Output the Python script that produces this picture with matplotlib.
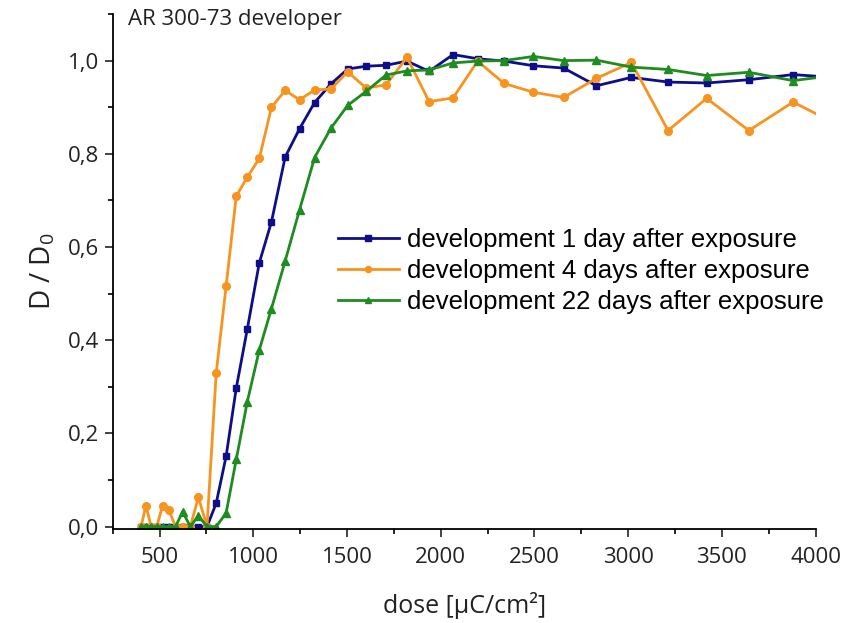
import numpy as np
import matplotlib.pyplot as plt
from matplotlib.ticker import MultipleLocator, FuncFormatter

# dose values (uC/cm^2), shared by all three series
dose = [401, 427, 455, 485, 516, 550, 585, 623, 664, 707, 753, 802, 855, 909,
        968, 1032, 1097, 1170, 1247, 1327, 1414, 1504, 1602, 1708, 1820, 1938,
        2066, 2197, 2338, 2495, 2656, 2831, 3017, 3213, 3419, 3644, 3880, 4130]

# normalized thickness D/D0
day1 = [0, 0, 0, 0, 0, 0, 0, 0, 0, 0, 0, 0.05, 0.151, 0.297, 0.424, 0.566,
        0.654, 0.793, 0.854, 0.91, 0.95, 0.982, 0.988, 0.99, 0.999, 0.977,
        1.013, 1.004, 0.999, 0.989, 0.984, 0.946, 0.964, 0.954, 0.952, 0.959,
        0.970, 0.963]
day4 = [0, 0.045, 0, 0, 0.045, 0.035, 0, 0, 0, 0.063, 0, 0.329, 0.516, 0.709,
        0.75, 0.79, 0.90, 0.936, 0.916, 0.937, 0.939, 0.976, 0.941, 0.948,
        1.007, 0.912, 0.920, 0.999, 0.951, 0.932, 0.921, 0.962, 0.996, 0.850,
        0.919, 0.850, 0.911, 0.86]
day22 = [0, 0, 0, 0, 0, 0, 0, 0.032, 0, 0.023, 0, 0, 0.029, 0.144, 0.268,
         0.379, 0.468, 0.570, 0.680, 0.792, 0.855, 0.904, 0.934, 0.969, 0.978,
         0.98, 0.995, 0.999, 1.0, 1.009, 1.0, 1.001, 0.986, 0.981, 0.968, 0.975,
         0.957, 0.97]

labels = ['development 1 day after exposure',
          'development 4 days after exposure',
          'development 22 days after exposure']

plt.rcParams['font.family'] = ['Open Sans', 'DejaVu Sans']
plt.rcParams['mathtext.fontset'] = 'custom'
plt.rcParams['mathtext.rm'] = 'Open Sans'
plt.rcParams['mathtext.it'] = 'Open Sans'

fig = plt.figure(figsize=(8.54, 6.23), dpi=100)
ax = fig.add_axes([0.132, 0.151, 0.823, 0.8265])

ax.plot(dose, day1, color='#0e0e8a', lw=2, marker='s', ms=5, label=labels[0])
ax.plot(dose, day4, color='#f7931e', lw=2, marker='o', ms=5.5, label=labels[1])
ax.plot(dose, day22, color='#1e8c1e', lw=2, marker='^', ms=6, label=labels[2])

ax.set_xlim(250, 4000)
ax.set_ylim(-0.005, 1.1)
ax.xaxis.set_major_locator(MultipleLocator(500))
ax.xaxis.set_minor_locator(MultipleLocator(250))
ax.yaxis.set_major_locator(MultipleLocator(0.2))
ax.yaxis.set_minor_locator(MultipleLocator(0.1))
ax.yaxis.set_major_formatter(FuncFormatter(lambda v, p: ('%.1f' % v).replace('.', ',')))
ax.set_xticks([500, 1000, 1500, 2000, 2500, 3000, 3500, 4000])

for s in ['top', 'right']:
    ax.spines[s].set_visible(False)
for s in ['left', 'bottom']:
    ax.spines[s].set_linewidth(1.3)
ax.tick_params(which='major', direction='out', length=6, width=1.2, labelsize=16, colors='#222222')
ax.tick_params(axis='x', which='major', pad=7)
ax.tick_params(axis='y', which='major', pad=4)
ax.tick_params(which='minor', direction='out', length=3.5, width=1.2)

ax.set_xlabel('dose [µC/cm²]', fontsize=18, labelpad=17, color='#222222')
ax.set_ylabel('D / D$_0$', fontsize=20, labelpad=7, color='#222222')
ax.text(0.022, 0.979, 'AR 300-73 developer', transform=ax.transAxes,
        fontsize=16, va='baseline', ha='left', color='#222222')

ax.legend(loc='upper left', bbox_to_anchor=(0.32, 0.585), frameon=False,
          prop={'family': 'Liberation Sans', 'size': 18.5}, borderpad=0,
          borderaxespad=0, handlelength=2.4, handletextpad=0.3,
          labelspacing=0.28, markerscale=0.8)

plt.savefig('out.png', dpi=100)
